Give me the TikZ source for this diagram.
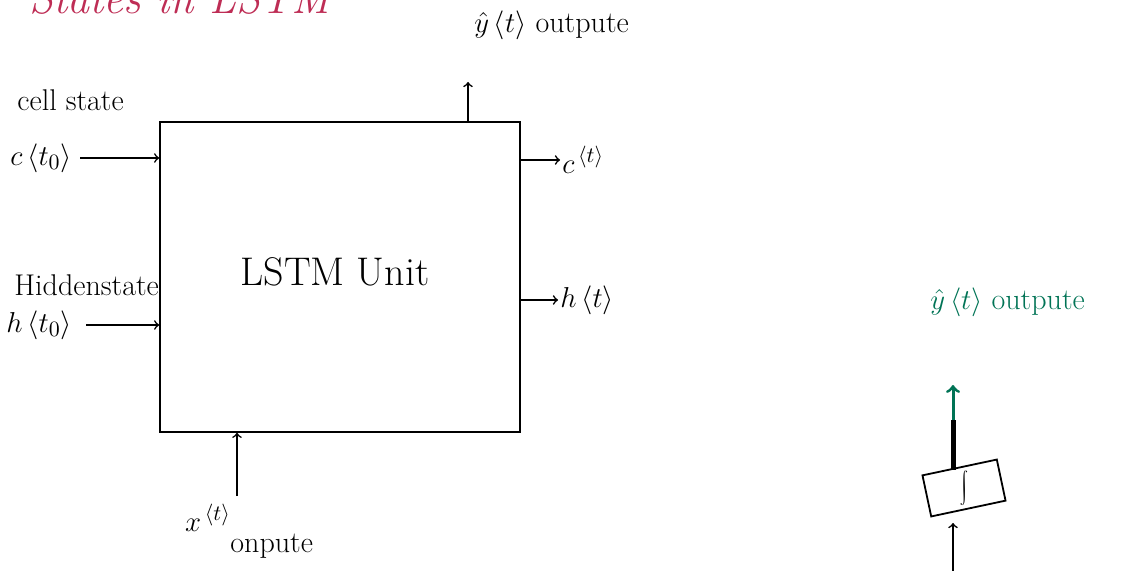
\documentclass[tikz,border=0pt]{standalone}
\usepackage{graphicx}
\usetikzlibrary{positioning}
\definecolor{inkred}{RGB}{190,45,85}
\definecolor{inkgreen}{RGB}{0,115,85}
\tikzset{
  label text/.style={font=\fontsize{15}{17}\selectfont, inner sep=1pt},
  flow/.style={->, line width=0.8pt},
}
\begin{document}
\begin{tikzpicture}[x=0.5pt, y=-0.5pt]
  \useasboundingbox (0,0) rectangle (1143,571);
  \clip (0,0) rectangle (1143,571);
  % title, cut off by the page edge
  \node[inkred, font=\fontsize{22}{26}\selectfont\itshape, anchor=base west]
        (title) at (22,14) {States in LSTM};

  % the unit
  \node[draw, line width=0.8pt, minimum width=180pt, minimum height=155pt]
        (unit) at (340,277) {};
  \node[font=\fontsize{20}{22}\selectfont] (unitname) at (335,272) {LSTM Unit};

  % inputs on the left
  \node[label text, anchor=west] (cellname) at (15,100) {cell state};
  \node[label text, anchor=west] (cin) at (8,158) {$c\,\langle t_0\rangle$};
  \draw[flow] (cin.east) ++(6,0) -- (cin.east -| unit.west);
  \node[label text, anchor=west] (hidname) at (12,285) {Hiddenstate};
  \node[label text, anchor=west] (hin) at (4,325) {$h\,\langle t_0\rangle$};
  \draw[flow] (hin.east) ++(12,0) -- (hin.east -| unit.west);

  % outputs on the right
  \node[label text, anchor=west] (cout) at (560,160) {$c^{\,\langle t\rangle}$};
  \draw[flow] (cout.west -| unit.east) -- (cout.west);
  \node[label text, anchor=west] (hout) at (558,300) {$h\,\langle t\rangle$};
  \draw[flow] (hout.west -| unit.east) -- (hout.west);

  % output on top
  \node[label text, anchor=west] (yout) at (472,25) {$\hat{y}\,\langle t\rangle$ outpute};
  \coordinate (ytip) at (468,82);
  \draw[flow] (ytip |- unit.north) -- (ytip);

  % input below
  \node[label text] (xin) at (208,518) {$x^{\,\langle t\rangle}$};
  \node[label text, anchor=west] (xname) at (228,546) {onpute};
  \coordinate (xtail) at (237,496);
  \draw[flow] (xtail) -- (xtail |- unit.south);

  % small unit on the right
  \node[draw, line width=0.9pt, minimum width=38pt, minimum height=21pt,
        inner sep=0pt, rotate=12]
        (sig) at (964,488) {\scalebox{0.75}{$\displaystyle\int$}};
  \node[inkgreen, label text, anchor=west] (yhat) at (928,302)
        {$\hat{y}\,\langle t\rangle$ outpute};
  \coordinate (sigtop) at (953,470);
  \coordinate (gmid) at (953,420);
  \coordinate (gtop) at (953,385);
  \coordinate (sigbot) at (953,523);
  \coordinate (sigtail) at (953,580);
  \draw[line width=2.5pt] (sigtop) -- (gmid);
  \draw[flow, inkgreen, line width=1.5pt] (gmid) -- (gtop);
  \draw[flow] (sigtail) -- (sigbot);
\end{tikzpicture}
\end{document}
